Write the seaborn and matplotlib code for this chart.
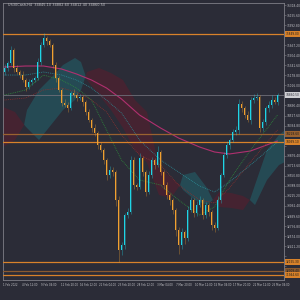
import numpy as np
import pandas as pd
import matplotlib
matplotlib.use("Agg")
import matplotlib.pyplot as plt
import seaborn as sns

# --- data (US30 H4) ---
first_open = 35230
closes = [35298, 35379, 35589, 35298, 35233, 35184, 35103, 34990, 35071, 35103,
          35136, 35395, 35670, 35784, 35730, 35670, 35346, 35136, 34941, 34731,
          34698, 34650, 34893, 34860, 34812, 34828, 34747, 34585, 34455, 34326,
          34245, 34050, 33969, 33807, 33564, 33645, 33613, 33159, 32349, 32430,
          32916, 32965, 33807, 33402, 33370, 33840, 33613, 33289, 33564, 33807,
          33726, 33937, 33613, 33402, 33240, 33159, 32997, 32673, 32430, 32641,
          32544, 32997, 33159, 32949, 33078, 33159, 32916, 33078, 32965, 32754,
          32706, 33159, 33564, 33888, 34050, 34131, 34261, 34293, 34720, 34650,
          34536, 34455, 34779, 34812, 34828, 34330, 34420, 34650, 34698, 34779,
          34747, 34860]
wick_up = [60, 40, 70, 30, 50, 40, 60, 30, 50, 40,
           40, 60, 50, 80, 40, 30, 40, 50, 30, 40,
           60, 50, 40, 70, 40, 50, 30, 40, 50, 30,
           60, 40, 50, 40, 30, 60, 50, 40, 60, 50,
           40, 70, 60, 50, 40, 80, 40, 30, 60, 50,
           40, 90, 30, 40, 50, 30, 40, 30, 50, 60,
           40, 70, 50, 40, 60, 70, 40, 50, 40, 30,
           50, 60, 40, 50, 60, 40, 50, 60, 70, 50,
           40, 60, 50, 70, 60, 40, 50, 40, 60, 80,
           50, 30]
wick_dn = [40, 50, 30, 60, 40, 50, 30, 70, 40, 50,
           30, 40, 50, 30, 60, 40, 50, 60, 40, 50,
           40, 60, 30, 40, 50, 40, 60, 50, 40, 60,
           50, 70, 40, 60, 80, 50, 60, 90, 200, 80,
           60, 50, 40, 70, 50, 40, 60, 70, 40, 50,
           60, 40, 50, 70, 60, 80, 60, 100, 150, 70,
           90, 50, 40, 60, 50, 40, 70, 50, 60, 80,
           60, 40, 50, 40, 50, 60, 40, 50, 60, 70,
           50, 40, 60, 50, 40, 70, 50, 40, 60, 50,
           40, 50]

# ichimoku cloud (span A / span B)
cloud_idx = [-0.5, 3.5, 6.5, 7.5, 11.5, 15.5, 19.5, 23.5, 25.5, 27.5, 31.5, 35.5,
             39.5, 43.5, 47.5, 51.5, 55.5, 58.5, 59.5, 63.5, 67.5, 69.5, 71.5,
             75.5, 79.5, 81.8, 83.5, 87.5, 91.5, 93.5]
span_a = [34018, 34131, 34370, 34617, 34941, 35136, 35346, 35460, 35395, 35103,
          34860, 34617, 34326, 33969, 33759, 33240, 33192, 33400, 33564, 33613,
          33354, 33155, 33046, 33030, 32997, 33159, 33402, 33969, 34212, 34293]
span_b = [34666, 34585, 34380, 34326, 34131, 34374, 34617, 34779, 34941, 35233,
          35298, 35217, 35103, 34779, 34585, 33694, 33516, 33405, 33321, 33159,
          33078, 33160, 33289, 33273, 33224, 33159, 33078, 33483, 33726, 33775]

# moving averages
ma_idx = [0, 7, 13, 19, 24, 29, 34, 39, 45, 52, 58, 65, 70, 75, 82, 91]
ma_fast = [34860, 34941, 35184, 35103, 34974, 34779, 34293, 33807, 33483, 33402,
           33159, 32916, 33046, 33483, 33969, 34536]
ma_mid = [34779, 34812, 34941, 34974, 34909, 34779, 34585, 34212, 33888, 33726,
          33402, 33159, 33111, 33354, 33775, 34293]
ma_slow = [35184, 35184, 35233, 35184, 35103, 34974, 34779, 34569, 34131, 33807,
           33613, 33386, 33289, 33451, 33726, 34099]
ma_200 = [35314, 35330, 35330, 35282, 35201, 35103, 34974, 34796, 34536, 34326,
          34164, 34018, 33937, 33905, 33953, 34115]

# horizontal levels
levels = [35849.0, 34228.6, 34099.1, 32155.3, 32009.4, 31944.6]
level_colors = ['#d8822a', '#9a6230', '#d8822a', '#d8822a', '#8a5a30', '#d8822a']
last_price = 34860.5

ytick_vals = [36318.4, 36155.6, 35992.8, 35830.0, 35667.2, 35504.4, 35341.6,
              35178.8, 35016.0, 34853.2, 34690.4, 34527.6, 34364.8, 34202.0,
              34039.2, 33876.4, 33713.6, 33550.8, 33388.0, 33225.2, 33062.4,
              32899.6, 32736.8, 32574.0, 32411.2, 32248.4, 32085.6, 31922.8]
date_labels = ["1 Feb 2022", "4 Feb 12:00", "9 Feb 04:00", "11 Feb 20:00",
               "16 Feb 12:00", "21 Feb 04:00", "23 Feb 20:00", "28 Feb 12:00",
               "3 Mar 04:00", "7 Mar 20:00", "10 Mar 12:00", "15 Mar 04:00",
               "17 Mar 20:00", "22 Mar 12:00", "25 Mar 04:00"]
title_txt = "US30Cash,H4  34845.10 34882.60 34812.40 34860.50"

bg = '#2b2c37'
fg = '#c4c4c8'
up_col = '#1fd5e6'
dn_col = '#f0a030'
fs = 2.1

sns.set_theme(style="dark", rc={"axes.facecolor": bg, "figure.facecolor": bg,
                                "axes.edgecolor": '#7e7e86', "text.color": fg})
plt.rcParams['font.family'] = ['DejaVu Sans']

df = pd.DataFrame({"close": closes, "up": wick_up, "dn": wick_dn})
df["open"] = [first_open] + closes[:-1]
df["high"] = df[["open", "close"]].max(axis=1) + df["up"]
df["low"] = df[["open", "close"]].min(axis=1) - df["dn"]
df["i"] = np.arange(len(df))

fig = plt.figure(figsize=(3, 3), dpi=100)
ax = fig.add_axes([0.01, 0.0667, 0.9367, 0.9233])

# cloud
ca = np.array(span_a); cb = np.array(span_b)
ax.fill_between(cloud_idx, ca, cb, where=ca >= cb, interpolate=True,
                color='#24525c', alpha=0.8, lw=0, zorder=1)
ax.fill_between(cloud_idx, ca, cb, where=ca < cb, interpolate=True,
                color='#4a2230', alpha=0.85, lw=0, zorder=1)

# moving averages
ma = pd.DataFrame({"i": ma_idx, "fast": ma_fast, "mid": ma_mid, "slow": ma_slow, "m200": ma_200})
sns.lineplot(data=ma, x="i", y="m200", ax=ax, color='#b0306f', lw=0.8, zorder=2)
sns.lineplot(data=ma, x="i", y="slow", ax=ax, color='#2b8c96', lw=0.6, ls=(0, (1, 1.2)), zorder=2)
sns.lineplot(data=ma, x="i", y="mid", ax=ax, color='#8a3030', lw=0.6, ls=(0, (1, 1.2)), zorder=2)
sns.lineplot(data=ma, x="i", y="fast", ax=ax, color='#2e8b3c', lw=0.6, ls=(0, (1, 1.2)), zorder=2)

# levels
for lv, lc in zip(levels, level_colors):
    ax.axhline(lv, color=lc, lw=0.9, zorder=3)
ax.axhline(last_price, color='#6e6e78', lw=0.6, zorder=3)

# candles
colors = np.where(df["close"] >= df["open"], up_col, dn_col)
ax.vlines(df["i"], df["low"], df["high"], colors=colors, lw=0.5, alpha=0.45, zorder=4)
body = (df["close"] - df["open"]).abs().clip(lower=12)
ax.bar(df["i"], body, bottom=df[["open", "close"]].min(axis=1), width=0.62,
       color=colors, lw=0, zorder=5)

ax.set_xlim(-0.5, 93.17)
ax.set_ylim(31863, 36351)
ax.set_xlabel("")
ax.set_ylabel("")
ax.grid(False)
for s in ax.spines.values():
    s.set_linewidth(0.6)

# right price scale; labels hidden where a level tag sits on top
marked = levels + [last_price]
ax.yaxis.tick_right()
ax.set_yticks(ytick_vals)
ax.set_yticklabels(["" if min(abs(v - m) for m in marked) < 100 else f"{v:.2f}"
                    for v in ytick_vals], fontsize=fs, color=fg)
ax.tick_params(axis='y', length=1.5, width=0.4, pad=0.8, colors='#7e7e86', labelcolor=fg)

xt = [-0.5 + 6.4 * k for k in range(len(date_labels))]
ax.set_xticks(xt)
ax.set_xticklabels(date_labels, fontsize=1.9, color=fg, ha='left')
ax.tick_params(axis='x', length=1.5, width=0.4, pad=1, colors='#7e7e86', labelcolor=fg)

# highlighted price labels
for lv, lc in zip(levels, level_colors):
    ax.annotate(f"{lv:.2f}", xy=(1.006, lv), xycoords=('axes fraction', 'data'),
                fontsize=fs, color='#1a1a1a', va='center', ha='left', annotation_clip=False,
                bbox=dict(boxstyle='square,pad=0.2', fc=lc, ec='none'))
ax.annotate(f"{last_price:.2f}", xy=(1.006, last_price), xycoords=('axes fraction', 'data'),
            fontsize=fs, color='#2b2c37', va='center', ha='left', annotation_clip=False,
            bbox=dict(boxstyle='square,pad=0.2', fc='#d0d0d4', ec='none'))

fig.text(0.025, 0.984, title_txt, fontsize=2.5, color=fg, va='center')

fig.savefig("out.png", dpi=100, facecolor=bg)
